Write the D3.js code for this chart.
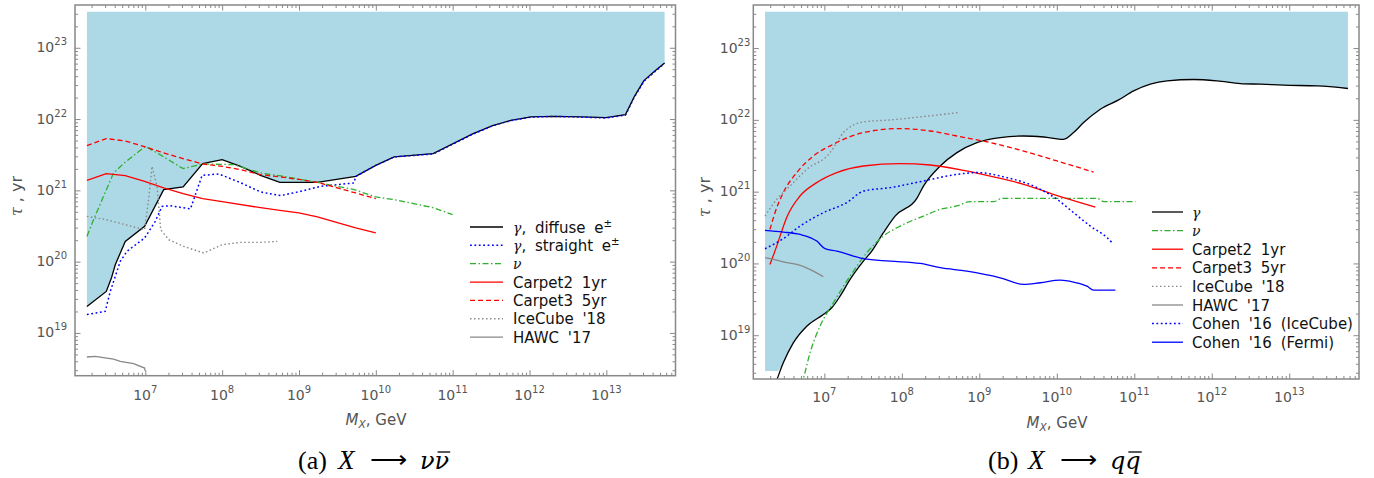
<!DOCTYPE html>
<html><head><meta charset="utf-8">
<script src="https://cdn.jsdelivr.net/npm/d3@7"></script>
<style>body{margin:0;background:#fff}</style></head>
<body><svg id="c" width="1374" height="478" xmlns="http://www.w3.org/2000/svg"></svg>
<script>
// ---- data: pairs of [log10(M_X / GeV), log10(tau / yr)] ----
const xMajorExp = [7, 8, 9, 10, 11, 12, 13];
const yMajorExp = [19, 20, 21, 22, 23];

// Panel (a) X -> nu nubar
const aGammaDiffuse = [[6.24,19.372],[6.492,19.582],[6.56,19.775],[6.609,19.957],[6.739,20.284],[6.991,20.495],[7.239,21.01],[7.492,21.048],[7.747,21.375],[8.0,21.431],[8.239,21.337],[8.499,21.211],[8.751,21.112],[9.239,21.112],[9.739,21.196],[10.0,21.351],[10.239,21.469],[10.746,21.515],[11.26,21.792],[11.52,21.908],[11.759,21.982],[12.02,22.03],[12.323,22.039],[12.671,22.03],[12.997,22.02],[13.249,22.062],[13.366,22.319],[13.489,22.54],[13.627,22.67],[13.758,22.788]];
const aGammaStraight = [[6.24,19.258],[6.478,19.302],[6.544,19.582],[6.674,20.004],[6.761,20.144],[6.991,20.332],[7.13,20.565],[7.218,20.775],[7.326,20.785],[7.587,20.739],[7.739,21.21],[7.956,21.23],[8.239,21.108],[8.499,20.978],[8.76,20.926],[9.021,20.986],[9.282,21.056],[9.716,21.104],[9.739,21.196],[10.0,21.351],[10.239,21.469],[10.746,21.51],[11.26,21.787],[11.52,21.905],[11.759,21.98],[12.02,22.028],[12.323,22.037],[12.671,22.028],[12.997,22.015],[13.249,22.055],[13.366,22.31],[13.489,22.53],[13.627,22.66],[13.758,22.78]];
const aNu = [[6.24,20.354],[6.318,20.565],[6.456,20.916],[6.587,21.244],[6.726,21.385],[7.0,21.618],[7.153,21.525],[7.492,21.305],[7.747,21.37],[8.151,21.361],[8.499,21.244],[8.803,21.196],[9.239,21.112],[9.717,21.01],[10.0,20.907],[10.239,20.87],[10.759,20.753],[10.999,20.659]];
const aCarpet2 = [[6.24,21.14],[6.492,21.234],[6.739,21.206],[6.991,21.126],[7.239,21.034],[7.492,20.954],[7.747,20.883],[8.0,20.841],[8.499,20.757],[8.751,20.719],[8.999,20.683],[9.239,20.627],[9.738,20.472],[10.0,20.402]];
const aCarpet3 = [[6.24,21.627],[6.492,21.726],[6.739,21.693],[7.0,21.609],[7.239,21.525],[7.492,21.445],[7.747,21.37],[8.0,21.337],[8.239,21.29],[8.499,21.22],[8.76,21.188],[9.02,21.15],[9.239,21.112],[9.5,21.034],[9.738,20.963],[10.0,20.883]];
const aIceCube = [[6.24,20.635],[6.492,20.589],[6.739,20.519],[6.991,20.448],[7.043,20.87],[7.087,21.337],[7.153,21.056],[7.2,20.45],[7.304,20.308],[7.5,20.214],[7.761,20.121],[8.0,20.238],[8.239,20.27],[8.499,20.27],[8.717,20.284]];
const aHawc = [[6.24,18.662],[6.348,18.67],[6.587,18.633],[6.674,18.6],[6.848,18.568],[6.991,18.507],[6.995,18.47]];
const aLabels = ["γ, diffuse e^±", "γ, straight e^±", "ν", "Carpet2 1yr", "Carpet3 5yr", "IceCube '18", "HAWC '17"];

// Panel (b) X -> q qbar
const bGamma = [[6.36,18.3],[6.393,18.396],[6.47,18.615],[6.599,18.894],[6.773,19.126],[6.987,19.289],[7.096,19.382],[7.203,19.544],[7.332,19.777],[7.504,20.032],[7.612,20.172],[7.762,20.428],[7.913,20.66],[8.194,20.907],[8.279,21.078],[8.495,21.357],[8.711,21.544],[8.969,21.683],[9.27,21.753],[9.571,21.775],[9.829,21.761],[10.088,21.729],[10.217,21.823],[10.346,21.962],[10.562,22.148],[10.798,22.278],[10.992,22.403],[11.207,22.497],[11.424,22.543],[11.767,22.562],[12.07,22.543],[12.371,22.506],[12.629,22.497],[12.93,22.483],[13.362,22.473],[13.757,22.437]];
const bNu = [[6.70,18.3],[6.729,18.396],[6.815,18.755],[6.944,19.126],[7.116,19.452],[7.332,19.823],[7.548,20.149],[7.762,20.381],[7.978,20.52],[8.279,20.66],[8.495,20.753],[8.711,20.8],[8.882,20.861],[9.183,20.861],[9.292,20.907],[10.519,20.907],[10.605,20.861],[11.014,20.861]];
const bCarpet2 = [[6.298,19.986],[6.385,20.241],[6.45,20.45],[6.514,20.64],[6.686,20.939],[6.902,21.126],[7.16,21.265],[7.504,21.357],[7.978,21.391],[8.366,21.371],[8.796,21.297],[9.227,21.195],[9.571,21.102],[10.088,20.916],[10.497,20.785]];
const bCarpet3 = [[6.298,20.474],[6.363,20.707],[6.47,20.986],[6.643,21.265],[6.858,21.497],[7.116,21.66],[7.504,21.823],[7.978,21.879],[8.366,21.845],[8.711,21.775],[9.141,21.683],[9.571,21.566],[10.003,21.427],[10.475,21.273]];
const bIceCube = [[6.234,20.66],[6.385,20.893],[6.557,21.078],[6.773,21.311],[7.074,21.544],[7.16,21.683],[7.245,21.823],[7.504,21.971],[7.849,21.999],[8.279,22.046],[8.731,22.102]];
const bHawc = [[6.234,20.08],[6.385,20.046],[6.514,20.01],[6.643,19.986],[6.858,19.893],[6.987,19.814]];
const bCohenIce = [[6.234,20.205],[6.47,20.345],[6.686,20.52],[6.987,20.707],[7.289,20.847],[7.504,21.008],[7.849,21.056],[8.279,21.148],[8.711,21.241],[8.969,21.265],[9.357,21.195],[9.70,21.078],[10.003,20.893],[10.217,20.707],[10.433,20.52],[10.649,20.358],[10.713,20.289]];
const bCohenFermi = [[6.234,20.46],[6.47,20.437],[6.686,20.404],[6.902,20.311],[7.009,20.205],[7.16,20.172],[7.504,20.066],[7.849,20.032],[8.236,20.0],[8.495,19.94],[8.84,19.893],[9.27,19.80],[9.571,19.707],[9.787,19.731],[10.045,19.767],[10.217,19.739],[10.39,19.683],[10.475,19.628],[10.756,19.628]];
const bLabels = ["γ", "ν", "Carpet2 1yr", "Carpet3 5yr", "IceCube '18", "HAWC '17", "Cohen '16 (IceCube)", "Cohen '16 (Fermi)"];

const fillTopExp = 23.505;   // upper edge of the excluded (blue) region
const bFillFloorExp = 18.5;  // lower cut of the blue region in panel (b)

// ---- styles ----
const ST = {
  black:   {stroke:"#000000", w:1.3, dash:null},
  blueDot: {stroke:"#0000ff", w:1.5, dash:"1.8,2.6"},
  green:   {stroke:"#2fb02f", w:1.3, dash:"6,2.5,1.5,2.5"},
  red:     {stroke:"#ff0000", w:1.3, dash:null},
  redDash: {stroke:"#ff0000", w:1.3, dash:"5,3"},
  grayDot: {stroke:"#888888", w:1.4, dash:"1.5,2.5"},
  gray:    {stroke:"#888888", w:1.3, dash:null},
  blue:    {stroke:"#0000ff", w:1.3, dash:null}
};
const AXC = "#888888", LBC = "#555555";

const svg = d3.select("#c");
svg.append("rect").attr("width",1374).attr("height",478).attr("fill","#fff");

function rich(textSel, str, size) {
  // γ / ν as serif italic math symbols, "^x" as superscript
  const parts = str.split(/([γν]|\^.)/);
  parts.forEach(p => {
    if (!p) return;
    if (p === "γ" || p === "ν") {
      textSel.append("tspan").attr("font-family","'DejaVu Serif', serif").attr("font-style","italic").attr("font-size", size-1).text(p);
    } else if (p[0] === "^") {
      textSel.append("tspan").attr("font-size", size*0.68).attr("dy", -6).text(p.slice(1));
      textSel.append("tspan").attr("dy", 6).text("");
    } else {
      textSel.append("tspan").text(p);
    }
  });
}

function drawPanel(id, P) {
  const [L, R] = P.xRange, [B, T] = P.yRange;
  const x = d3.scaleLog().domain(P.xDomain.map(e => 10**e)).range(P.xRange);
  const y = d3.scaleLog().domain(P.yDomain.map(e => 10**e)).range(P.yRange);
  const g = svg.append("g");
  svg.append("clipPath").attr("id","clip"+id).append("rect")
    .attr("x",L).attr("y",T).attr("width",R-L).attr("height",B-T);
  const plot = g.append("g").attr("clip-path",`url(#clip${id})`);

  const floor = P.fillFloor;
  let fillPts = P.fillBase.map(d => [d[0], floor == null ? d[1] : Math.max(d[1], floor)]);
  if (P.fillStart != null) fillPts = [[P.fillStart, floor]].concat(fillPts);
  plot.append("path").datum(fillPts).attr("fill","#add8e6").attr("stroke","none")
    .attr("d", d3.area().x(d => x(10**d[0])).y0(y(10**fillTopExp)).y1(d => y(10**d[1])).curve(P.curve));

  const line = d3.line().x(d => x(10**d[0])).y(d => y(10**d[1])).curve(P.curve);
  P.series.forEach(s => {
    plot.append("path").datum(s.data).attr("fill","none")
      .attr("stroke", s.st.stroke).attr("stroke-width", s.st.w)
      .attr("stroke-dasharray", s.st.dash).attr("d", line);
  });

  const xMaj = xMajorExp.map(e => 10**e);
  const xMin = [];
  for (let n = 6; n <= 13; n++) for (let k = 2; k <= 9; k++) {
    const v = k * 10**n; if (v > x.domain()[0] && v < x.domain()[1]) xMin.push(v);
  }
  const yMaj = yMajorExp.map(e => 10**e);
  const yMin = [];
  for (let n = 18; n <= 23; n++) for (let k = 2; k <= 9; k++) {
    const v = k * 10**n; if (v > y.domain()[0] && v < y.domain()[1]) yMin.push(v);
  }
  const axes = [
    [d3.axisBottom(x), `translate(0,${B})`, xMaj, xMin],
    [d3.axisTop(x), `translate(0,${T})`, xMaj, xMin],
    [d3.axisLeft(y), `translate(${L},0)`, yMaj, yMin],
    [d3.axisRight(y), `translate(${R},0)`, yMaj, yMin]
  ];
  axes.forEach(([ax, tr, maj, mn]) => {
    [[maj, -5.5], [mn, -3]].forEach(([vals, sz]) => {
      const a = g.append("g").attr("transform", tr)
        .call(ax.tickValues(vals).tickSize(sz).tickFormat(""));
      a.select(".domain").remove();
      a.selectAll("line").attr("stroke", AXC).attr("stroke-width", 1);
    });
  });
  g.append("rect").attr("x",L).attr("y",T).attr("width",R-L).attr("height",B-T)
    .attr("fill","none").attr("stroke",AXC).attr("stroke-width",1.5);

  xMajorExp.forEach(e => {
    const t = g.append("text").attr("x", x(10**e)).attr("y", B + P.xLabDy)
      .attr("text-anchor","middle").attr("font-family","'DejaVu Sans', sans-serif")
      .attr("font-size",14).attr("fill",LBC);
    t.append("tspan").text("10");
    t.append("tspan").attr("dy",-7).attr("font-size",10).text(e);
  });
  yMajorExp.forEach(e => {
    const t = g.append("text").attr("x", L - P.yLabDx).attr("y", y(10**e) + 4.5)
      .attr("text-anchor","end").attr("font-family","'DejaVu Sans', sans-serif")
      .attr("font-size",14).attr("fill",LBC);
    t.append("tspan").text("10");
    t.append("tspan").attr("dy",-7).attr("font-size",10).text(e);
  });

  const xt = g.append("text").attr("x", P.xTitle[0]).attr("y", P.xTitle[1])
    .attr("text-anchor","middle").attr("font-family","'DejaVu Sans', sans-serif")
    .attr("font-size",15).attr("fill",LBC);
  xt.append("tspan").attr("font-style","italic").text("M");
  xt.append("tspan").attr("font-style","italic").attr("font-size",10.5).attr("dy",3).text("X");
  xt.append("tspan").attr("dy",-3).text(", GeV");

  const yt = g.append("text").attr("transform", `translate(${P.yTitle[0]},${P.yTitle[1]}) rotate(-90)`)
    .attr("text-anchor","middle").attr("font-family","'DejaVu Sans', sans-serif")
    .attr("font-size",16).attr("fill",LBC);
  yt.append("tspan").attr("font-family","'DejaVu Serif', serif").attr("font-style","italic").text("τ");
  yt.append("tspan").text(" , yr");

  const lg = P.legend;
  lg.items.forEach((it, i) => {
    const yy = lg.y + i * lg.dy;
    g.append("line").attr("x1", lg.x).attr("x2", lg.x + lg.len).attr("y1", yy).attr("y2", yy)
      .attr("stroke", it.st.stroke).attr("stroke-width", it.st.w).attr("stroke-dasharray", it.st.dash);
    const t = g.append("text").attr("x", lg.x + lg.len + lg.gap).attr("y", yy + 5.5)
      .attr("font-family","'DejaVu Sans', sans-serif").attr("font-size",15)
      .attr("fill","#111").attr("word-spacing", 4);
    rich(t, it.label, 15);
  });
}

drawPanel("A", {
  xDomain: [6.085, 13.9], yDomain: [18.4, 23.6],
  xRange: [75, 675.5], yRange: [375.7, 5],
  curve: d3.curveLinear,
  fillBase: aGammaDiffuse, fillFloor: null, fillStart: null,
  series: [
    {data: aGammaDiffuse, st: ST.black},
    {data: aGammaStraight, st: ST.blueDot},
    {data: aNu, st: ST.green},
    {data: aCarpet2, st: ST.red},
    {data: aCarpet3, st: ST.redDash},
    {data: aIceCube, st: ST.grayDot},
    {data: aHawc, st: ST.gray}
  ],
  xLabDy: 24, yLabDx: 8,
  xTitle: [376, 425], yTitle: [22, 196],
  legend: {x: 470, y: 227, dy: 18.35, len: 33, gap: 10,
    items: [ST.black, ST.blueDot, ST.green, ST.red, ST.redDash, ST.grayDot, ST.gray].map((st,i) => ({st, label: aLabels[i]}))}
});

drawPanel("B", {
  xDomain: [6.083, 13.9], yDomain: [18.39, 23.6],
  xRange: [753.3, 1359], yRange: [379, 5],
  curve: d3.curveMonotoneX,
  fillBase: bGamma, fillFloor: bFillFloorExp, fillStart: 6.234,
  series: [
    {data: bGamma, st: ST.black},
    {data: bNu, st: ST.green},
    {data: bCarpet2, st: ST.red},
    {data: bCarpet3, st: ST.redDash},
    {data: bIceCube, st: ST.grayDot},
    {data: bHawc, st: ST.gray},
    {data: bCohenIce, st: ST.blueDot},
    {data: bCohenFermi, st: ST.blue}
  ],
  xLabDy: 23, yLabDx: 3,
  xTitle: [1057, 428], yTitle: [710, 197],
  legend: {x: 1152, y: 212, dy: 18.6, len: 31, gap: 9,
    items: [ST.black, ST.green, ST.red, ST.redDash, ST.grayDot, ST.gray, ST.blueDot, ST.blue].map((st,i) => ({st, label: bLabels[i]}))}
});

// captions
function caption(x0, tag, sym) {
  const base = 469;
  svg.append("text").attr("x", x0).attr("y", base).attr("font-family","'Liberation Serif', serif")
    .attr("font-size",26).attr("fill","#000").text(tag);
  svg.append("text").attr("x", x0 + 40).attr("y", base).attr("font-family","'Liberation Serif', serif")
    .attr("font-style","italic").attr("font-size",27).attr("fill","#000").text("X");
  svg.append("text").attr("x", x0 + 72).attr("y", base - 1).attr("font-family","'DejaVu Sans', sans-serif")
    .attr("font-size",26).attr("font-weight",200).attr("fill","#000").text("⟶");
  const t = svg.append("text").attr("x", x0 + 122).attr("y", base).attr("font-family","'DejaVu Serif', serif")
    .attr("font-style","italic").attr("font-size",24).attr("fill","#000").text(sym + sym);
  const n = t.node();
  const w1 = n.getSubStringLength(0, 1), w = n.getComputedTextLength();
  svg.append("line").attr("x1", x0 + 122 + w1 + 3).attr("x2", x0 + 122 + w + 1)
    .attr("y1", base - 17).attr("y2", base - 17).attr("stroke","#000").attr("stroke-width",1.3);
}
caption(298, "(a)", "ν");
caption(988, "(b)", "q");
</script></body></html>
